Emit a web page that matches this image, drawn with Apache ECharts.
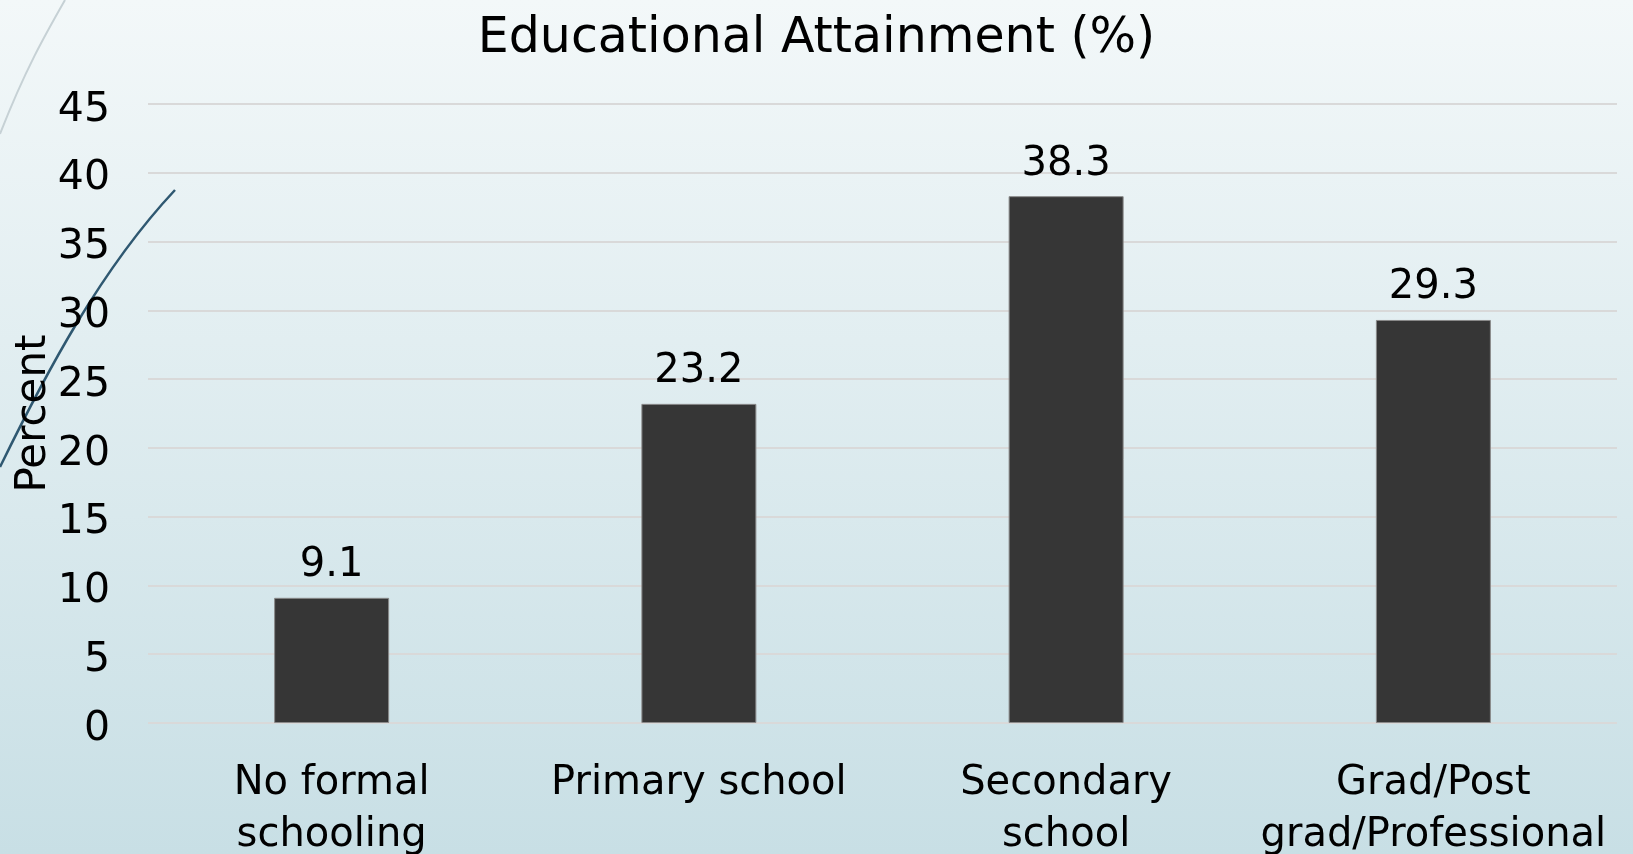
<!DOCTYPE html>
<html>
<head>
<meta charset="utf-8">
<script src="https://cdn.jsdelivr.net/npm/echarts@6/dist/echarts.min.js"></script>
<style>
html,body{margin:0;padding:0;width:1633px;height:854px;overflow:hidden;}
#chart{width:1633px;height:854px;}
</style>
</head>
<body>
<div id="chart"></div>
<script>
const chartTitle = 'Educational Attainment (%)';
const yAxisTitle = 'Percent';
const categories = ['No formal\nschooling', 'Primary school', 'Secondary\nschool', 'Grad/Post\ngrad/Professional'];
const percentValues = [9.1, 23.2, 38.3, 29.3];
const yTicks = { min: 0, max: 45, interval: 5 };

const FONT = 'DejaVu Sans';
const chart = echarts.init(document.getElementById('chart'), null, { renderer: 'canvas' });
chart.setOption({
  backgroundColor: {
    type: 'linear', x: 0, y: 0, x2: 0, y2: 1,
    colorStops: [{ offset: 0, color: '#f3f8f9' }, { offset: 1, color: '#c8dfe5' }]
  },
  graphic: [
    { type: 'bezierCurve', silent: true, shape: { x1: 0, y1: 134, x2: 65, y2: 0, cpx1: 25, cpy1: 70, cpx2: 45, cpy2: 35 },
      style: { stroke: '#c6d1d5', lineWidth: 2, fill: null } },
    { type: 'bezierCurve', silent: true, shape: { x1: 0, y1: 467, x2: 175, y2: 190, cpx1: 45, cpy1: 375, cpx2: 100, cpy2: 270 },
      style: { stroke: '#2f5871', lineWidth: 2.5, fill: null } }
  ],
  title: {
    text: chartTitle, left: 'center', top: 10,
    textStyle: { fontFamily: FONT, fontSize: 49, fontWeight: 'normal', color: '#000' }
  },
  grid: { left: 148, right: 16, top: 104, bottom: 131, containLabel: false, outerBoundsMode: 'none' },
  xAxis: {
    type: 'category', data: categories,
    axisLine: { show: false }, axisTick: { show: false },
    axisLabel: { fontFamily: FONT, fontSize: 40, color: '#000', lineHeight: 52, margin: 35, interval: 0 }
  },
  yAxis: {
    type: 'value', min: yTicks.min, max: yTicks.max, interval: yTicks.interval,
    name: yAxisTitle, nameLocation: 'middle', nameGap: 93, nameRotate: 90, nameMoveOverlap: false,
    nameTextStyle: { fontFamily: FONT, fontSize: 42, color: '#000' },
    axisLine: { show: false }, axisTick: { show: false },
    axisLabel: {
      fontFamily: FONT, fontSize: 41, color: '#000', margin: 38,
      formatter: '{v|{value}}',
      rich: { v: { fontFamily: FONT, fontSize: 41, color: '#000', padding: [12, 0, 0, 0] } }
    },
    splitLine: { lineStyle: { color: '#d9d9d9', width: 2 } }
  },
  series: [{
    type: 'bar', data: percentValues, barWidth: 115,
    itemStyle: { color: '#363636', borderColor: '#8a8a8a', borderWidth: 1 },
    label: { show: true, position: 'top', distance: 12, fontFamily: FONT, fontSize: 40, color: '#000' }
  }]
});
</script>
</body>
</html>
